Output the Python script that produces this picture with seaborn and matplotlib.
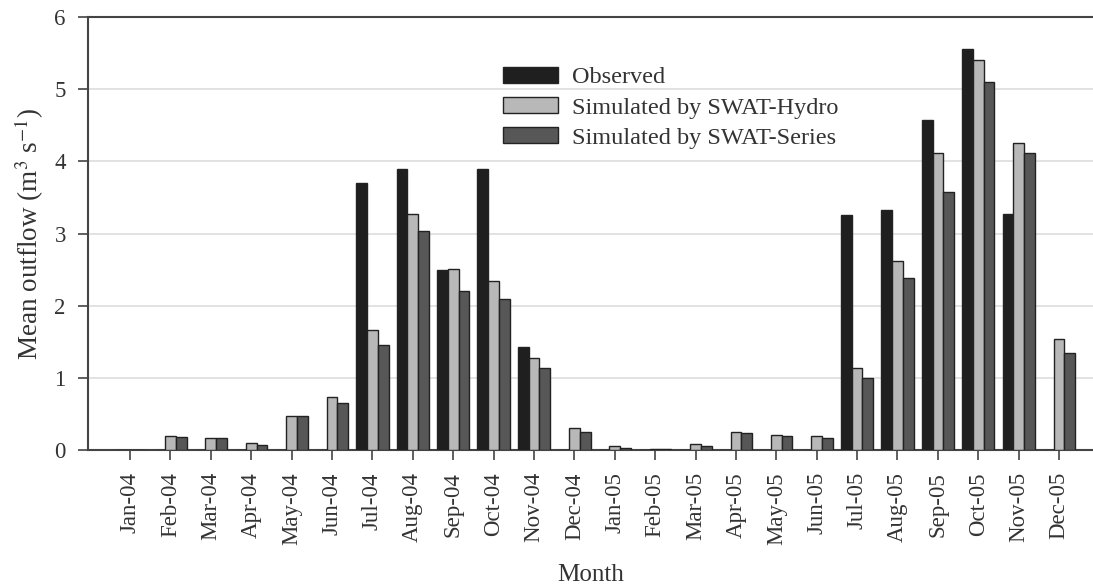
import matplotlib
matplotlib.use("Agg")
import matplotlib.pyplot as plt
import seaborn as sns
import pandas as pd

months = ["Jan-04", "Feb-04", "Mar-04", "Apr-04", "May-04", "Jun-04", "Jul-04", "Aug-04",
          "Sep-04", "Oct-04", "Nov-04", "Dec-04", "Jan-05", "Feb-05", "Mar-05", "Apr-05",
          "May-05", "Jun-05", "Jul-05", "Aug-05", "Sep-05", "Oct-05", "Nov-05", "Dec-05"]
observed = [0, 0, 0, 0, 0, 0, 3.70, 3.90, 2.49, 3.90, 1.43, 0,
            0, 0, 0, 0, 0, 0, 3.25, 3.33, 4.57, 5.56, 3.27, 0]
swat_hydro = [0, 0.20, 0.17, 0.10, 0.47, 0.73, 1.66, 3.27, 2.51, 2.34, 1.27, 0.31,
              0.05, 0.015, 0.08, 0.25, 0.21, 0.20, 1.13, 2.62, 4.12, 5.41, 4.25, 1.54]
swat_series = [0, 0.18, 0.17, 0.07, 0.47, 0.65, 1.45, 3.04, 2.21, 2.09, 1.13, 0.25,
               0.03, 0.01, 0.06, 0.23, 0.20, 0.17, 1.00, 2.39, 3.57, 5.10, 4.12, 1.35]
series_names = ["Observed", "Simulated by SWAT-Hydro", "Simulated by SWAT-Series"]
colors = ["#1f1f1f", "#b8b8b8", "#575757"]

df = pd.DataFrame({
    "Month": months * 3,
    "Value": observed + swat_hydro + swat_series,
    "Series": [series_names[0]] * 24 + [series_names[1]] * 24 + [series_names[2]] * 24,
})

sns.set_style("white")
plt.rcParams["font.family"] = ["Liberation Serif", "DejaVu Serif"]
plt.rcParams["mathtext.fontset"] = "stix"

fig = plt.figure(figsize=(10.93, 5.88), dpi=100)
ax = fig.add_axes([88 / 1093, 1 - 450 / 588, (1093 - 88) / 1093, (450 - 17) / 588])

sns.barplot(data=df, x="Month", y="Value", hue="Series", order=months,
            hue_order=series_names, palette=colors, width=0.8,
            edgecolor="#222222", linewidth=1.0, ax=ax, zorder=3)

ax.set_ylim(0, 6)
ax.set_xlim(-1.04, 23.84)
ax.set_yticks(range(0, 7))
ax.yaxis.grid(True, color="#dddddd", linewidth=1.2, zorder=0)
ax.set_axisbelow(True)
for side in ["left", "bottom", "top"]:
    ax.spines[side].set_color("#444444")
    ax.spines[side].set_linewidth(1.5)
ax.spines["right"].set_visible(False)
ax.tick_params(axis="both", direction="out", length=7, width=1.2, color="#444444",
               labelcolor="#333333", bottom=True, left=True)
ax.tick_params(axis="y", labelsize=16.5, pad=9)
ax.tick_params(axis="x", labelrotation=90, labelsize=16.5, pad=9)
ax.set_xlabel("Month", fontsize=18, color="#333333", labelpad=14)
ax.set_ylabel("Mean outflow (m$^{3}$ s$^{-1}$)", fontsize=19.5, color="#333333", labelpad=6)

leg = ax.legend(loc="upper left", bbox_to_anchor=(0.391, 0.935), frameon=False,
                fontsize=17.5, handlelength=2.26, handleheight=0.62, labelspacing=0.36,
                handletextpad=0.58, labelcolor="#333333")

fig.savefig("out.png", dpi=100)
